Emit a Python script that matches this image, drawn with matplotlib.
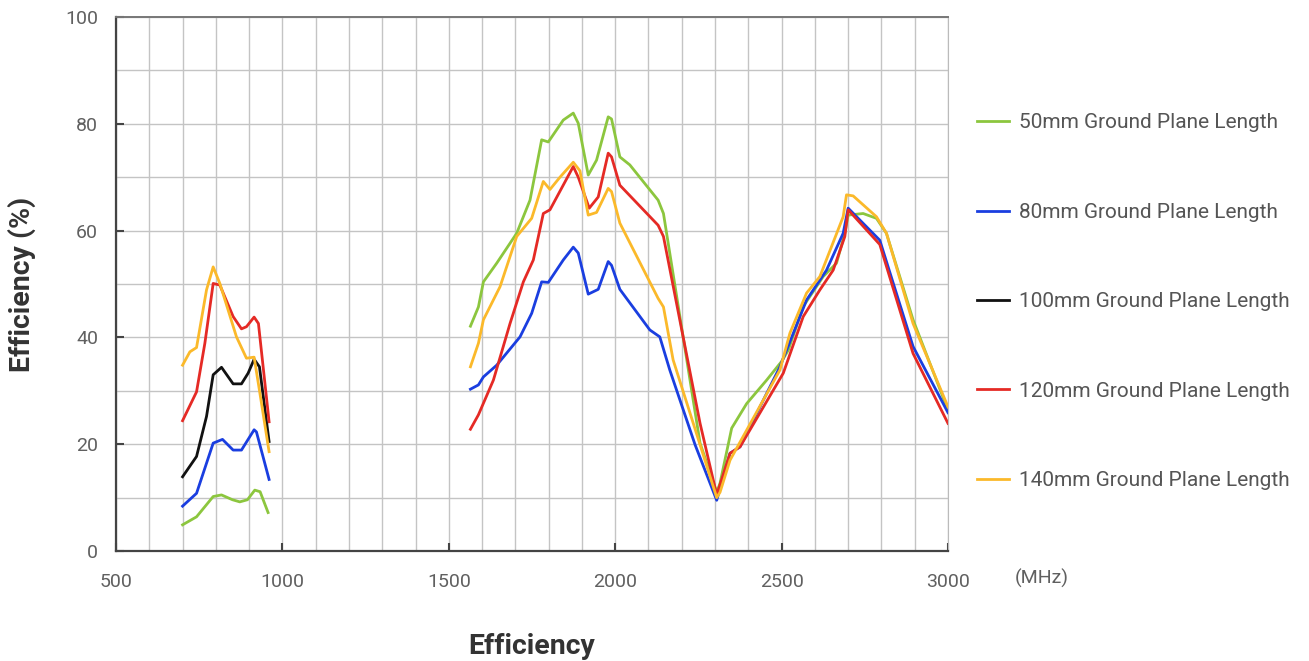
import matplotlib.pyplot as plt
import numpy as np
from matplotlib.ticker import MultipleLocator

nan = np.nan

# frequency (MHz) / efficiency (%) per ground plane length, nan = gap between bands
f_50 = [700, 742, 792, 817, 850, 872, 895, 917, 933, 957, nan,
        1565, 1589, 1604, 1644, 1704, 1744, 1779, 1799, 1844, 1874, 1889, 1919, 1944, 1979, 1989,
        2014, 2044, 2129, 2145, 2255, 2305, 2315, 2350, 2395, 2455, 2500, 2520, 2565, 2625, 2665,
        2690, 2700, 2745, 2785, 2815, 2895, 3000]
e_50 = [4.9, 6.4, 10.2, 10.5, 9.6, 9.2, 9.6, 11.4, 11.1, 7.2, nan,
        42.1, 45.7, 50.4, 53.9, 59.5, 65.7, 77.0, 76.6, 80.7, 82.0, 80.1, 70.4, 73.2, 81.3, 80.9,
        73.8, 72.3, 65.7, 63.2, 20.2, 11.0, 12.7, 23.0, 27.6, 32.0, 35.5, 37.6, 45.8, 51.4, 53.9,
        59.5, 62.9, 63.2, 62.3, 59.5, 43.3, 26.4]

f_80 = [700, 742, 792, 820, 852, 877, 915, 922, 960, nan,
        1565, 1589, 1604, 1644, 1714, 1749, 1779, 1799, 1844, 1874, 1889, 1919, 1949, 1979, 1989,
        2014, 2104, 2134, 2164, 2240, 2305, 2345, 2375, 2495, 2575, 2635, 2685, 2700, 2795, 2895, 3000]
e_80 = [8.4, 10.8, 20.2, 20.9, 18.9, 18.9, 22.7, 22.3, 13.4, nan,
        30.3, 31.1, 32.6, 34.8, 40.1, 44.5, 50.4, 50.3, 54.5, 56.9, 55.8, 48.1, 49.0, 54.2, 53.5,
        49.0, 41.4, 40.1, 33.9, 19.9, 9.5, 18.3, 19.5, 34.5, 47.0, 52.6, 59.5, 64.2, 58.2, 38.3, 25.9]

f_100 = [700, 742, 772, 792, 817, 852, 877, 897, 915, 931, 960]
e_100 = [13.9, 17.7, 25.2, 33.0, 34.4, 31.3, 31.3, 33.3, 35.9, 34.5, 20.5]

f_120 = [700, 742, 767, 792, 812, 852, 877, 892, 915, 928, 960, nan,
         1565, 1589, 1634, 1684, 1724, 1754, 1784, 1804, 1874, 1889, 1922, 1949, 1979, 1989,
         2014, 2129, 2145, 2255, 2305, 2345, 2375, 2505, 2565, 2615, 2655, 2690, 2700, 2795, 2895, 3000]
e_120 = [24.4, 29.8, 38.9, 50.1, 49.8, 43.9, 41.6, 42.0, 43.8, 42.6, 24.2, nan,
         22.8, 25.5, 32.0, 42.6, 50.4, 54.5, 63.2, 63.9, 72.0, 70.0, 64.2, 66.3, 74.5, 73.8,
         68.5, 61.0, 58.9, 23.9, 10.5, 18.3, 19.5, 33.3, 43.9, 48.9, 52.6, 58.9, 63.9, 57.4, 37.0, 23.9]

f_140 = [700, 722, 742, 772, 792, 812, 862, 892, 915, 931, 960, nan,
         1565, 1589, 1604, 1654, 1704, 1749, 1784, 1804, 1834, 1874, 1894, 1919, 1944, 1979, 1989,
         2014, 2129, 2145, 2174, 2255, 2305, 2315, 2345, 2495, 2525, 2575, 2615, 2685, 2695, 2715,
         2785, 2815, 2895, 3000]
e_140 = [34.8, 37.3, 38.1, 48.9, 53.2, 50.1, 40.1, 36.1, 36.3, 30.1, 18.6, nan,
         34.5, 38.9, 43.3, 49.5, 58.9, 62.3, 69.2, 67.7, 70.0, 72.8, 71.2, 62.9, 63.4, 67.9, 67.3,
         61.4, 47.3, 45.7, 35.8, 19.9, 10.0, 11.0, 17.0, 33.9, 40.8, 48.3, 51.4, 62.6, 66.7, 66.5,
         62.6, 59.5, 42.6, 27.0]

labels = ['50mm Ground Plane Length', '80mm Ground Plane Length', '100mm Ground Plane Length',
          '120mm Ground Plane Length', '140mm Ground Plane Length']
colors = ['#8cc63e', '#1a3ee0', '#111111', '#e52a25', '#fbb92a']

plt.rcParams['font.family'] = ['Roboto', 'DejaVu Sans']

fig = plt.figure(figsize=(13.09, 6.61), dpi=100)
ax = fig.add_axes([116/1309, 1 - 551/661, (948-116)/1309, (551-17)/661])

series = [(f_50, e_50), (f_80, e_80), (f_100, e_100), (f_120, e_120), (f_140, e_140)]
for (f, e), c, lab in zip(series, colors, labels):
    ax.plot(f, e, color=c, lw=2.0, label=lab, solid_joinstyle='round')

ax.set_xlim(500, 3000)
ax.set_ylim(0, 100)
ax.xaxis.set_major_locator(MultipleLocator(500))
ax.xaxis.set_minor_locator(MultipleLocator(100))
ax.yaxis.set_major_locator(MultipleLocator(20))
ax.yaxis.set_minor_locator(MultipleLocator(10))
ax.grid(True, which='both', color='#c4c4c4', lw=1.0)
ax.set_axisbelow(True)
ax.tick_params(which='major', direction='in', length=6, width=1.5, color='#444',
               labelsize=14, labelcolor='#606060')
ax.tick_params(axis='x', which='major', pad=16)
ax.tick_params(axis='y', which='major', pad=13)
ax.tick_params(which='minor', length=0)

for s in ['left', 'bottom']:
    ax.spines[s].set_color('#444')
    ax.spines[s].set_linewidth(1.6)
ax.spines['top'].set_color('#777')
ax.spines['top'].set_linewidth(1.4)
ax.spines['right'].set_color('#bbb')

ax.set_ylabel('Efficiency (%)', fontsize=20.5, fontweight='bold', color='#333')
ax.yaxis.set_label_coords(-0.113, 0.5)
ax.yaxis.label.set_verticalalignment('center')
ax.set_xlabel('Efficiency', fontsize=20.5, fontweight='bold', color='#333')
ax.xaxis.set_label_coords(0.5, -(647-551)/534)
ax.xaxis.label.set_verticalalignment('center')

fig.text(1015/1309, 1 - 578/661, '(MHz)', fontsize=14, color='#606060',
         va='center', ha='left')

leg = ax.legend(loc='upper left', bbox_to_anchor=(967/1309, 1 - 103/661),
                bbox_transform=fig.transFigure, frameon=False, fontsize=15,
                labelspacing=3.38, handlelength=1.5, handletextpad=0.5, borderpad=0)
for t in leg.get_texts():
    t.set_color('#555')

plt.savefig('out.png', dpi=100)
